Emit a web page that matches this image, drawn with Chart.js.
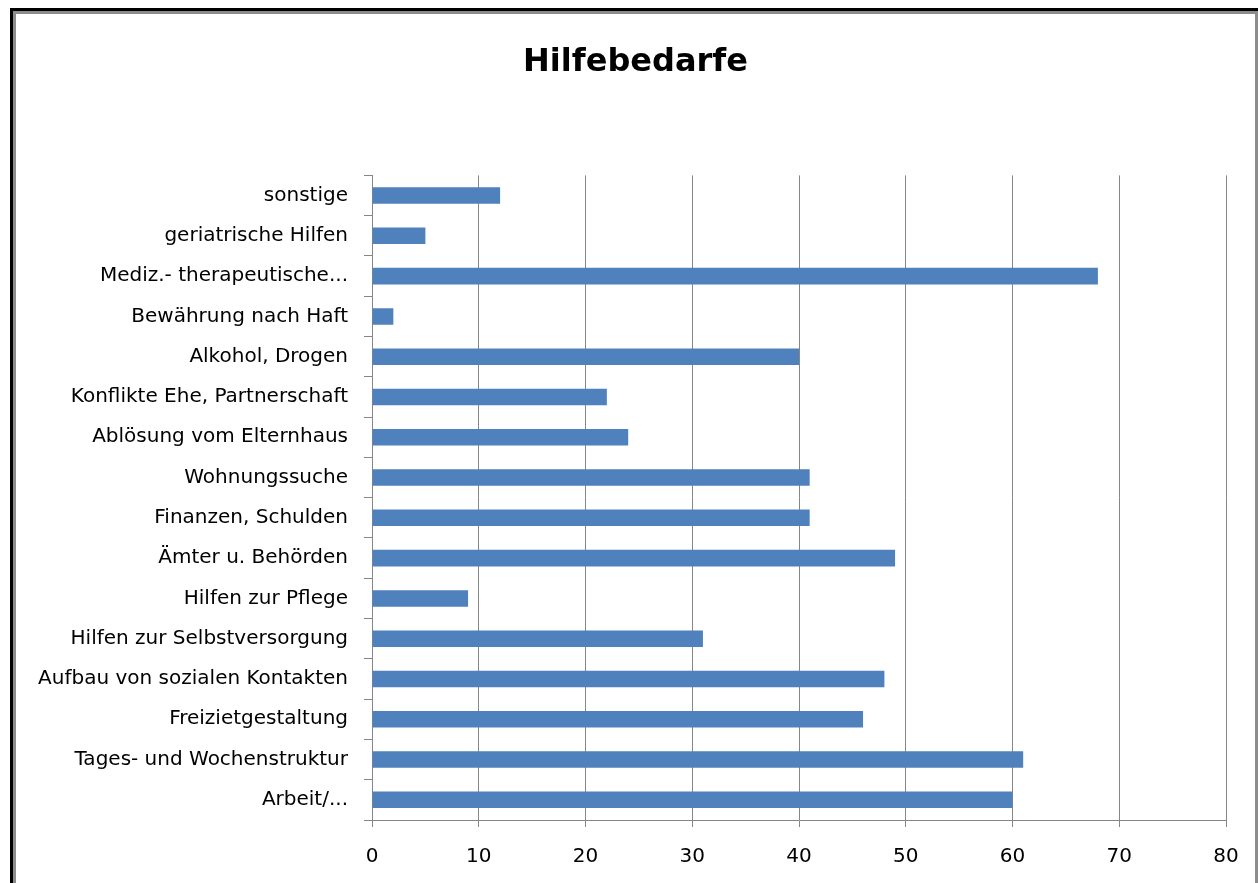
<!DOCTYPE html>
<html>
<head>
  <meta charset="utf-8">
  <title>Hilfebedarfe</title>
  <script src="https://cdn.jsdelivr.net/npm/chart.js@4.4.0/dist/chart.umd.min.js"></script>
  <style>
    html, body { margin: 0; padding: 0; background: #fff; }
    #wrap { position: relative; width: 1258px; height: 883px; overflow: hidden; }
    #chartEl { position: absolute; left: 0; top: 0; }
    .frameOuter { position: absolute; left: 10px; top: 8px; width: 1260px; height: 900px; border-left: 3px solid #000; border-top: 3px solid #000; }
    .frameInner { position: absolute; left: 13px; top: 11px; width: 1239px; height: 900px; border: 3px solid #8c8c8c; border-bottom: none; }
  </style>
</head>
<body>
  <div id="wrap">
    <canvas id="chartEl" width="1258" height="883"></canvas>
    <div class="frameOuter"></div>
    <div class="frameInner"></div>
  </div>

  <script>
    // categories, top to bottom as in the picture
    let categories = [
      "sonstige",
      "geriatrische Hilfen",
      "Mediz.- therapeutische...",
      "Bewährung nach Haft",
      "Alkohol, Drogen",
      "Konflikte Ehe, Partnerschaft",
      "Ablösung vom Elternhaus",
      "Wohnungssuche",
      "Finanzen, Schulden",
      "Ämter u. Behörden",
      "Hilfen zur Pflege",
      "Hilfen zur Selbstversorgung",
      "Aufbau von sozialen Kontakten",
      "Freizietgestaltung",
      "Tages- und Wochenstruktur",
      "Arbeit/..."
    ];
    let values = [12, 5, 68, 2, 40, 22, 24, 41, 41, 49, 9, 31, 48, 46, 61, 60];
    let xTicks = [0, 10, 20, 30, 40, 50, 60, 70, 80];

    let gridGray = "#868686";
    let labelFont = { family: "DejaVu Sans", size: 20 };

    // title in the original sits a bit right of the canvas centre
    let shiftTitle = {
      id: "shiftTitle",
      afterLayout(chart) {
        if(chart.titleBlock) chart.titleBlock.left = 45;
      }
    };

    new Chart(chartEl, {
      type: "bar",
      plugins: [shiftTitle],
      data: {
        labels: categories,
        datasets: [{
          data: values,
          backgroundColor: "#4f81bd",
          borderWidth: 0,
          categoryPercentage: 1,
          barPercentage: 0.41
        }]
      },
      options: {
        indexAxis: "y",
        responsive: false,
        animation: false,
        devicePixelRatio: 1,
        layout: { padding: { left: 0, right: 32, top: 0, bottom: 0 } },
        plugins: {
          legend: { display: false },
          tooltip: { enabled: false },
          title: {
            display: true,
            text: "Hilfebedarfe",
            color: "#000",
            font: { family: "DejaVu Sans", size: 32, weight: "bold" },
            padding: { top: 43, bottom: 94 }
          }
        },
        scales: {
          x: {
            min: xTicks[0],
            max: xTicks[xTicks.length - 1],
            afterBuildTicks: (scale) => { scale.ticks = xTicks.map(v => ({ value: v })); },
            ticks: { color: "#000", font: labelFont, padding: 18 },
            grid: { color: gridGray, lineWidth: 1, tickLength: 7, drawTicks: true },
            border: { color: gridGray, width: 1 },
            afterFit: (scale) => { scale.height = 63; }
          },
          y: {
            ticks: { color: "#000", font: labelFont, padding: 16, autoSkip: false },
            grid: { offset: true, drawOnChartArea: false, drawTicks: true, tickLength: 8, color: gridGray },
            border: { color: gridGray, width: 1 },
            afterFit: (scale) => { scale.width = 372; }
          }
        }
      }
    });
  </script>
</body>
</html>
